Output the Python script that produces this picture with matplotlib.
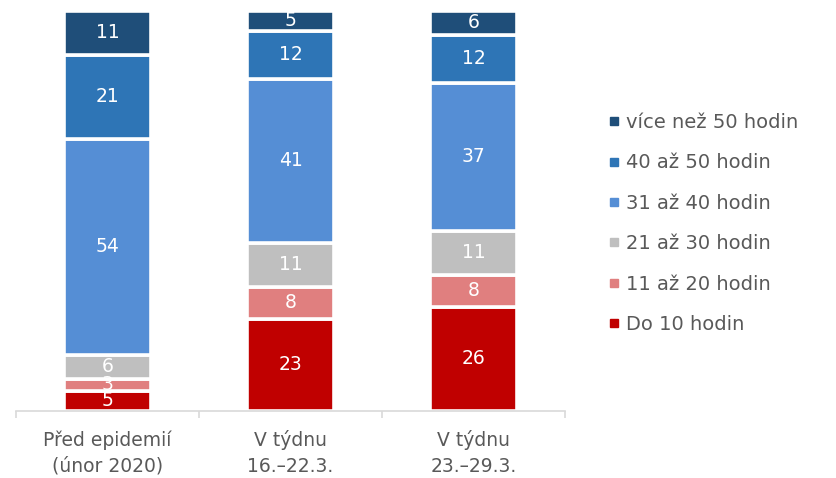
import matplotlib
matplotlib.use("Agg")
import matplotlib.pyplot as plt
from matplotlib.lines import Line2D
import numpy as np

categories = ["Před epidemií\n(únor 2020)", "V týdnu\n16.–22.3.", "V týdnu\n23.–29.3."]
series_names = ["Do 10 hodin", "11 až 20 hodin", "21 až 30 hodin", "31 až 40 hodin", "40 až 50 hodin", "více než 50 hodin"]
do10 = [5, 23, 26]
h11_20 = [3, 8, 8]
h21_30 = [6, 11, 11]
h31_40 = [54, 41, 37]
h40_50 = [21, 12, 12]
nad50 = [11, 5, 6]
colors = ["#C00000", "#E07F7F", "#BFBFBF", "#558ED5", "#2E75B6", "#1F4E79"]

series = [do10, h11_20, h21_30, h31_40, h40_50, nad50]

plt.rcParams['font.family'] = ['DejaVu Sans']
fig = plt.figure(figsize=(8.36, 4.78), dpi=100)
ax = fig.add_axes([16/836, 67/478, (565-16)/836, 400/478])

x = np.arange(len(categories))
bottom = np.zeros(len(categories))
for vals, col, name in zip(series, colors, series_names):
    vals = np.array(vals, dtype=float)
    ax.bar(x, vals, bottom=bottom, width=0.475, color=col, edgecolor="white", linewidth=2.6, label=name)
    for xi, v, b in zip(x, vals, bottom):
        ax.text(xi, b + v/2, f"{int(v)}", ha="center", va="center", color="white", fontsize=13.5)
    bottom += vals

ax.set_xlim(-0.5, 2.5)
ax.set_ylim(0, 100)
for s in ["top", "right", "left"]:
    ax.spines[s].set_visible(False)
ax.spines["bottom"].set_color("#D9D9D9")
ax.spines["bottom"].set_linewidth(1.2)
ax.set_yticks([])
ax.set_xticks(x)
ax.set_xticklabels(categories, fontsize=13.5, color="#595959", linespacing=1.45)
ax.tick_params(axis="x", which="major", length=0, pad=14)
ax.set_xticks([-0.5, 0.5, 1.5, 2.5], minor=True)
ax.tick_params(axis="x", which="minor", length=5, color="#D9D9D9", width=1.2)

handles = [Line2D([0], [0], marker="s", linestyle="none", markersize=5.5, markerfacecolor=c, markeredgecolor=c)
           for c in colors[::-1]]
labels = series_names[::-1]
fig.legend(handles, labels, loc="upper left", bbox_to_anchor=(604/836, 1 - 113/478), frameon=False,
           fontsize=14, labelcolor="#595959", handletextpad=0.15, labelspacing=1.1, handlelength=1.0,
           borderaxespad=0.0, borderpad=0.0)

fig.savefig("out.png", dpi=100)
